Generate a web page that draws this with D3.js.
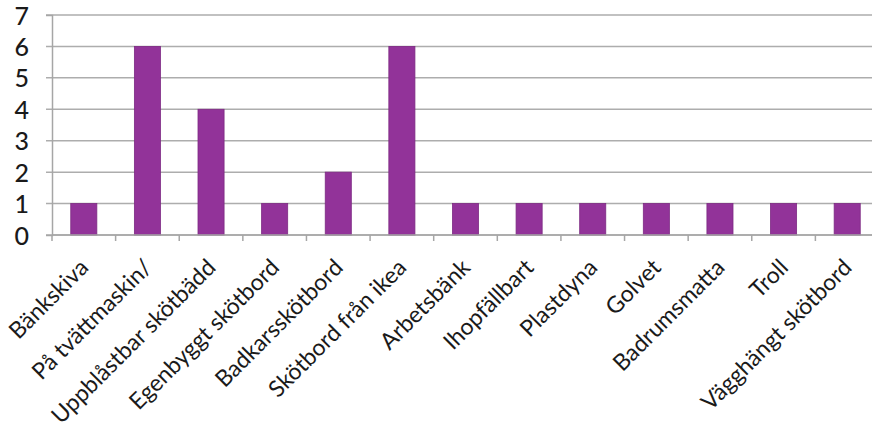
<!DOCTYPE html>
<html>
<head>
<meta charset="utf-8">
<script src="https://cdn.jsdelivr.net/npm/d3@7"></script>
<style>
  body { margin: 0; background: #fff; }
  .axis path, .axis line { stroke: #a6a6a6; }
</style>
</head>
<body>
<div id="chart"></div>
<script>
// Data
var categories = ["Bänkskiva", "På tvättmaskin/", "Uppblåstbar skötbädd", "Egenbyggt skötbord",
  "Badkarsskötbord", "Skötbord från ikea", "Arbetsbänk", "Ihopfällbart", "Plastdyna",
  "Golvet", "Badrumsmatta", "Troll", "Vägghängt skötbord"];
var counts = [1, 6, 4, 1, 2, 6, 1, 1, 1, 1, 1, 1, 1];
var yTicks = [0, 1, 2, 3, 4, 5, 6, 7];

var svgWidth = 872;
var svgHeight = 435;
var margin = { top: 15, right: -7, bottom: 200, left: 52 };
var width = svgWidth - margin.left - margin.right;
var height = svgHeight - margin.top - margin.bottom;

var svg = d3.select("#chart")
  .append("svg")
  .attr("width", svgWidth)
  .attr("height", svgHeight);

var chartGroup = svg.append("g")
  .attr("transform", `translate(${margin.left}, ${margin.top})`);

var xScale = d3.scaleBand()
  .domain(categories)
  .range([0, width])
  .paddingInner(0.59)
  .paddingOuter(0.295);

var yScale = d3.scaleLinear()
  .domain([0, 7])
  .range([height, 0]);

// gridlines
chartGroup.selectAll(".grid")
  .data(yTicks)
  .enter()
  .append("line")
  .attr("class", "grid")
  .attr("x1", -6)
  .attr("x2", width)
  .attr("y1", d => yScale(d))
  .attr("y2", d => yScale(d))
  .attr("stroke", "#adadad")
  .attr("stroke-width", 1.5);

// bars
chartGroup.selectAll(".bar")
  .data(counts)
  .enter()
  .append("rect")
  .attr("class", "bar")
  .attr("x", (d, i) => xScale(categories[i]))
  .attr("y", d => yScale(d))
  .attr("width", xScale.bandwidth())
  .attr("height", d => height - yScale(d))
  .attr("fill", "#923399")
  .attr("stroke", "#7d2a83")
  .attr("stroke-width", 0.8);

// y axis
var leftAxis = d3.axisLeft(yScale).tickValues(yTicks).tickFormat(d3.format("d")).tickSize(6).tickPadding(17);
var yAxis = chartGroup.append("g").attr("class", "axis").call(leftAxis);
yAxis.select(".domain").attr("stroke-width", 1.5);
yAxis.selectAll(".tick line").remove();
yAxis.selectAll("text")
  .style("font-family", "Lato, sans-serif")
  .style("font-size", "25px")
  .style("font-weight", "500")
  .attr("fill", "#1a1a1a")
  .attr("dy", "0.36em");

// x axis: tick marks between categories
var step = xScale.step();
chartGroup.selectAll(".xtick")
  .data(d3.range(categories.length + 1))
  .enter()
  .append("line")
  .attr("class", "xtick")
  .attr("x1", d => d * step)
  .attr("x2", d => d * step)
  .attr("y1", height)
  .attr("y2", height + 6)
  .attr("stroke", "#a6a6a6")
  .attr("stroke-width", 1.5);

chartGroup.append("line")
  .attr("x1", 0)
  .attr("x2", width)
  .attr("y1", height)
  .attr("y2", height)
  .attr("stroke", "#a6a6a6")
  .attr("stroke-width", 1.5);

chartGroup.selectAll(".xlabel")
  .data(categories)
  .enter()
  .append("text")
  .attr("class", "xlabel")
  .attr("transform", d => `translate(${xScale(d) + xScale.bandwidth() / 2 + 6}, ${height + 34}) rotate(-45)`)
  .style("text-anchor", "end")
  .style("font-family", "Lato, sans-serif")
  .style("font-size", "23px")
  .attr("fill", "#1a1a1a")
  .text(d => d);
</script>
</body>
</html>
